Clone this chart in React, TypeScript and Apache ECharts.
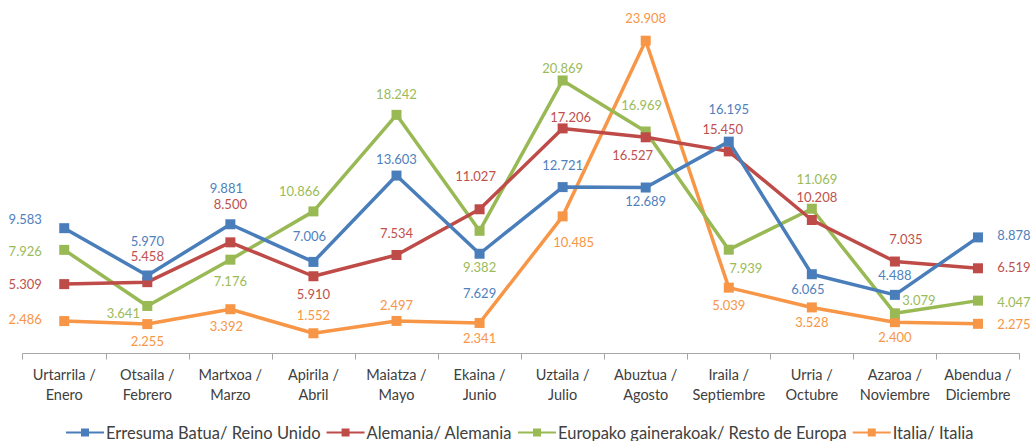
import React, { useEffect, useRef } from "react";
import * as echarts from "echarts";

const categories = [
  "Urtarrila /\nEnero",
  "Otsaila /\nFebrero",
  "Martxoa /\nMarzo",
  "Apirila /\nAbril",
  "Maiatza /\nMayo",
  "Ekaina /\nJunio",
  "Uztaila /\nJulio",
  "Abuztua /\nAgosto",
  "Iraila /\nSeptiembre",
  "Urria /\nOctubre",
  "Azaroa /\nNoviembre",
  "Abendua /\nDiciembre",
];

const reinoUnido = [9583, 5970, 9881, 7006, 13603, 7629, 12721, 12689, 16195, 6065, 4488, 8878];
const alemania = [5309, 5458, 8500, 5910, 7534, 11027, 17206, 16527, 15450, 10208, 7035, 6519];
const restoEuropa = [7926, 3641, 7176, 10866, 18242, 9382, 20869, 16969, 7939, 11069, 3079, 4047];
const italia = [2486, 2255, 3392, 1552, 2497, 2341, 10485, 23908, 5039, 3528, 2400, 2275];

const seriesNames = [
  "Erresuma Batua/ Reino Unido",
  "Alemania/ Alemania",
  "Europako gainerakoak/ Resto de Europa",
  "Italia/ Italia",
];

// label offsets (dx, dy) from each marker centre
const offsetsReino = [[-39, -9], [0, -34], [-4, -36], [-4, -26], [0, -17], [0, 39], [0, -22], [0, 13], [0, -33], [-4, 15], [0, -20], [36, -2]];
const offsetsAlemania = [[-39, 0], [0, -26], [0, -38], [0, 18], [0, -22], [-4, -33], [8, -11], [-13, 18], [-6, -22], [5, -23], [11, -23], [36, -1]];
const offsetsResto = [[-39, 1], [-24, 7], [0, 21], [-14, -20], [0, -21], [0, 36], [0, -12], [-4, -27], [17, 18], [5, -30], [24, -13], [36, 1]];
const offsetsItalia = [[-39, -2], [0, 17], [-4, 17], [0, -18], [0, -16], [0, 15], [11, 26], [0, -23], [0, 17], [0, 15], [0, 15], [36, 0]];

const lineColors = ["#4a7ebb", "#be4b48", "#98b954", "#f79646"];
const labelColors = ["#4f81bd", "#c0504d", "#9bbb59", "#f79646"];

const FONT = "Lato";

function fmt(v: number): string {
  return String(Math.round(v)).replace(/\B(?=(\d{3})+(?!\d))/g, ".");
}

export default function App() {
  const ref = useRef<HTMLDivElement>(null);

  useEffect(() => {
    document.body.style.margin = "0";
    if (!ref.current) return;
    const chart = echarts.init(ref.current, null, { renderer: "svg" });
    const all = [reinoUnido, alemania, restoEuropa, italia];
    const offs = [offsetsReino, offsetsAlemania, offsetsResto, offsetsItalia];
    const series = all.map((arr, si) => ({
      name: seriesNames[si],
      type: "line",
      symbol: "rect",
      symbolSize: 10,
      z: 2 + (si === 0 ? 3 : si === 1 ? 2 : si === 2 ? 1 : 0),
      lineStyle: { color: lineColors[si], width: 3.5 },
      itemStyle: { color: lineColors[si] },
      label: {
        show: true,
        position: "inside",
        color: labelColors[si],
        fontSize: 13,
        fontFamily: FONT,
        formatter: (p: any) => fmt(p.value),
      },
      data: arr.map((v, i) => ({
        value: v,
        label: { offset: offs[si][i] },
      })),
    }));

    chart.setOption({
      animation: false,
      backgroundColor: "#ffffff",
      grid: { left: 22.7, right: 13.5, top: 26.4, bottom: 87.4, containLabel: false },
      legend: {
        top: 419,
        left: 60,
        itemWidth: 38,
        itemHeight: 10,
        itemGap: 5,
        textStyle: { fontFamily: FONT, fontSize: 16.5, color: "#404040", padding: [0, 0, 0, -3] },
        data: seriesNames,
      },
      xAxis: {
        type: "category",
        data: categories,
        boundaryGap: true,
        axisLine: { lineStyle: { color: "#a6a6a6", width: 1 } },
        axisTick: { show: true, length: 6, alignWithLabel: false, lineStyle: { color: "#a6a6a6" } },
        axisLabel: {
          interval: 0,
          fontFamily: FONT,
          fontSize: 14.5,
          lineHeight: 20,
          color: "#404040",
          margin: 11,
        },
      },
      yAxis: {
        type: "value",
        min: 0,
        max: 25000,
        show: false,
        splitLine: { show: false },
      },
      series,
    });
    return () => chart.dispose();
  }, []);

  return <div ref={ref} style={{ width: 1033, height: 441 }} />;
}
